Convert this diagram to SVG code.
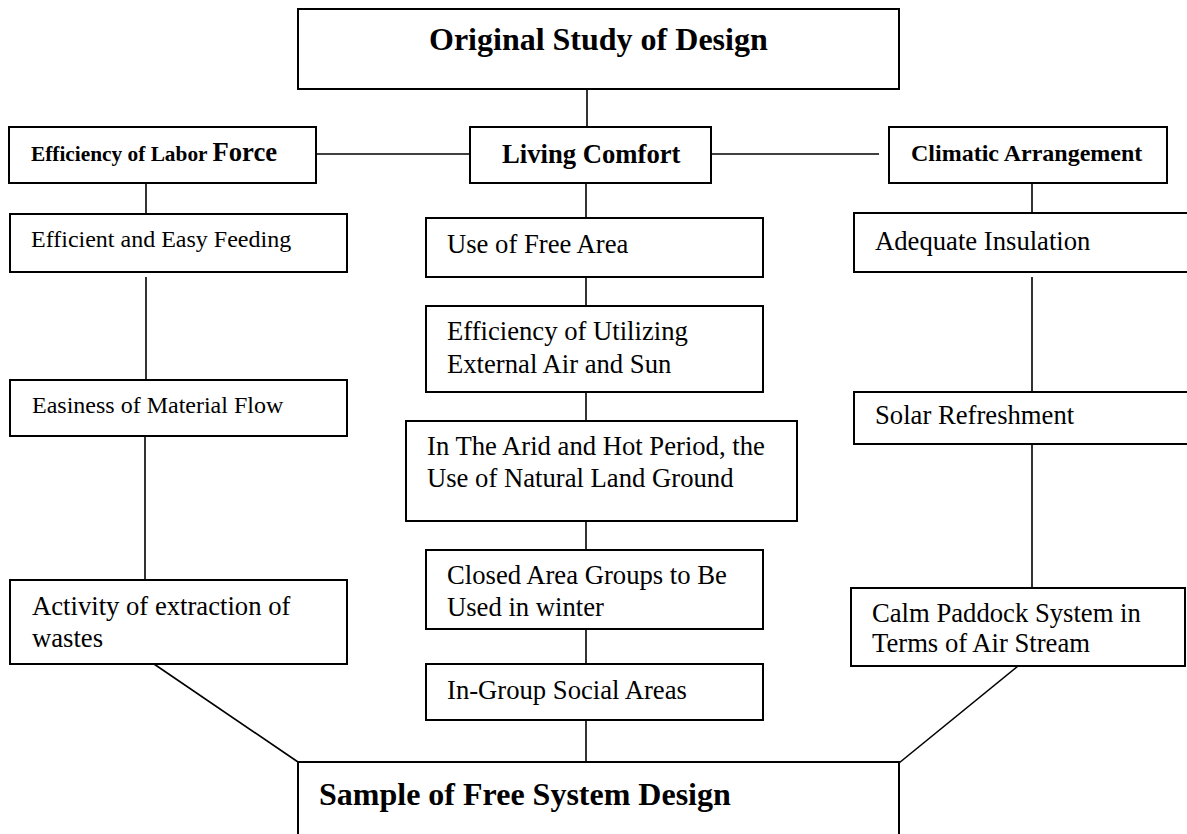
<svg xmlns="http://www.w3.org/2000/svg" width="1187" height="834" viewBox="0 0 1187 834">
<style>
.box{fill:#fff;stroke:#000;stroke-width:2}
.ln{fill:none;stroke:#000;stroke-width:1.6}
text{font-family:"Liberation Serif","Times New Roman",serif;fill:#000}
.t{font-size:26.67px}
.s{font-size:24px}
.b{font-weight:bold}
</style>
<rect width="1187" height="834" fill="#fff"/>
<g id="connectors">
<line class="ln" x1="587" y1="89" x2="587" y2="127"/>
<line class="ln" x1="316" y1="154" x2="477" y2="154"/>
<line class="ln" x1="711" y1="154" x2="879" y2="154"/>
<line class="ln" x1="146" y1="183" x2="146" y2="214"/>
<line class="ln" x1="146" y1="277" x2="146" y2="380"/>
<line class="ln" x1="145" y1="436" x2="145" y2="580"/>
<line class="ln" x1="154" y1="664" x2="298" y2="762"/>
<line class="ln" x1="586" y1="183" x2="586" y2="218"/>
<line class="ln" x1="586" y1="277" x2="586" y2="306"/>
<line class="ln" x1="586" y1="392" x2="586" y2="421"/>
<line class="ln" x1="586" y1="521" x2="586" y2="550"/>
<line class="ln" x1="586" y1="629" x2="586" y2="664"/>
<line class="ln" x1="586" y1="720" x2="586" y2="762"/>
<line class="ln" x1="1032" y1="183" x2="1032" y2="213"/>
<line class="ln" x1="1032" y1="277" x2="1032" y2="392"/>
<line class="ln" x1="1032" y1="444" x2="1032" y2="588"/>
<line class="ln" x1="1018" y1="666" x2="899" y2="763"/>
</g>
<g id="n-original">
<rect class="box" x="298" y="9" width="601" height="80"/>
<text class="b" x="429" y="50" font-size="32">Original Study of Design</text>
</g>
<g id="n-labor">
<rect class="box" x="9" y="127" width="307" height="56"/>
<text class="b" x="31" y="161"><tspan font-size="21.33">Efficiency of Labor </tspan><tspan font-size="26.67">Force</tspan></text>
</g>
<g id="n-living">
<rect class="box" x="470" y="127" width="241" height="56"/>
<text class="b t" x="502" y="163">Living Comfort</text>
</g>
<g id="n-climatic">
<rect class="box" x="889" y="127" width="278" height="56"/>
<text class="b s" x="911" y="161">Climatic Arrangement</text>
</g>
<g id="n-feeding">
<rect class="box" x="10" y="214" width="337" height="58"/>
<text class="s" x="31" y="247">Efficient and Easy Feeding</text>
</g>
<g id="n-material">
<rect class="box" x="10" y="380" width="337" height="56"/>
<text class="s" x="32" y="413">Easiness of Material Flow</text>
</g>
<g id="n-wastes">
<rect class="box" x="10" y="580" width="337" height="84"/>
<text class="t" x="32" y="615">Activity of extraction of</text>
<text class="t" x="32" y="647">wastes</text>
</g>
<g id="n-freearea">
<rect class="box" x="426" y="218" width="337" height="59"/>
<text class="t" x="447" y="253">Use of Free Area</text>
</g>
<g id="n-airsun">
<rect class="box" x="426" y="306" width="337" height="86"/>
<text class="t" x="447" y="340">Efficiency of Utilizing</text>
<text class="t" x="447" y="373">External Air and Sun</text>
</g>
<g id="n-arid">
<rect class="box" x="406" y="421" width="391" height="100"/>
<text class="t" x="427" y="455">In The Arid and Hot Period, the</text>
<text class="t" x="427" y="487">Use of Natural Land Ground</text>
</g>
<g id="n-closed">
<rect class="box" x="426" y="550" width="337" height="79"/>
<text class="t" x="447" y="584">Closed Area Groups to Be</text>
<text class="t" x="447" y="616">Used in winter</text>
</g>
<g id="n-social">
<rect class="box" x="426" y="664" width="337" height="56"/>
<text class="t" x="447" y="699">In-Group Social Areas</text>
</g>
<g id="n-insulation">
<rect class="box" x="854" y="213" width="340" height="59"/>
<text class="t" x="875" y="250">Adequate Insulation</text>
</g>
<g id="n-solar">
<rect class="box" x="854" y="392" width="340" height="52"/>
<text class="t" x="875" y="424">Solar Refreshment</text>
</g>
<g id="n-paddock">
<rect class="box" x="851" y="588" width="334" height="78"/>
<text class="t" x="872" y="622">Calm Paddock System in</text>
<text class="t" x="872" y="652">Terms of Air Stream</text>
</g>
<g id="n-sample">
<rect class="box" x="298" y="762" width="601" height="100"/>
<text class="b" x="319" y="805" font-size="32">Sample of Free System Design</text>
</g>
</svg>
